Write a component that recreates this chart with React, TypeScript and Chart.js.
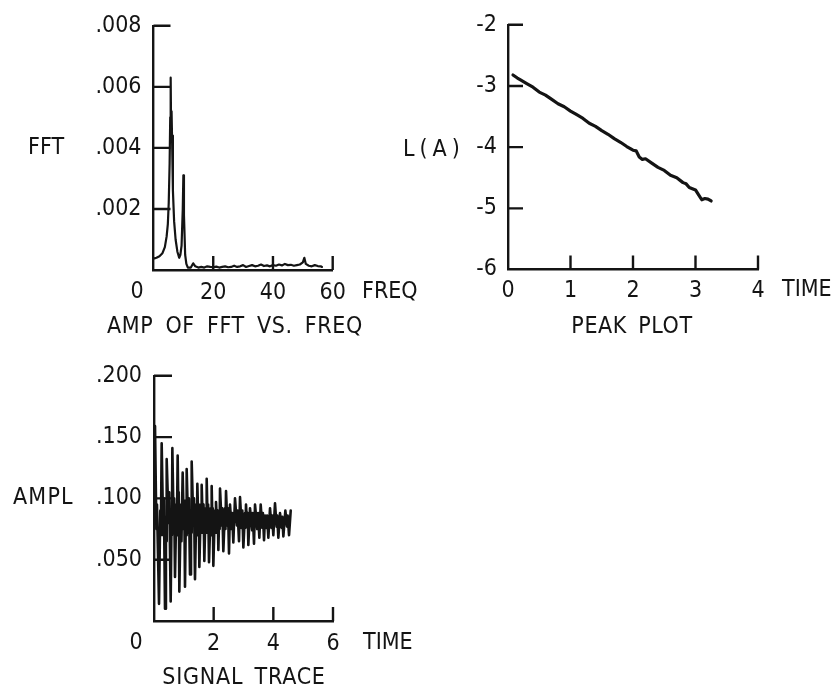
import React, { useEffect, useRef } from "react";
import { Chart, registerables } from "chart.js";
Chart.register(...registerables);

const FONT = "'Liberation Sans Narrow', 'DejaVu Sans Condensed', 'Arial Narrow', sans-serif";
const INK = "#141414";

// ---------- Panel 1: AMP OF FFT VS. FREQ ----------
const fftFreq = [0.3, 1.0, 2.0, 3.0, 3.8, 4.4, 4.8, 5.1, 5.4, 5.6, 5.75, 5.9, 6.05, 6.2, 6.5, 6.9, 7.4, 8.0, 8.6, 9.0, 9.4, 9.8, 10.0, 10.2, 10.6, 11.0, 11.5, 12.5, 13.3, 14.0, 15, 16, 17, 18, 19, 20, 21, 22, 23, 24, 25, 26, 27, 28, 29, 30, 31, 32, 33, 34, 35, 36, 37, 38, 39, 40, 41, 42, 43, 44, 45, 46, 47, 48, 49, 50, 50.5, 51, 52, 53, 54, 55, 56, 56.4];
const fftAmp = [0.00038, 0.0004, 0.00045, 0.00055, 0.00075, 0.0011, 0.0015, 0.0022, 0.0035, 0.005, 0.0063, 0.0046, 0.0052, 0.0044, 0.0026, 0.0016, 0.001, 0.0006, 0.0004, 0.0005, 0.0008, 0.002, 0.0031, 0.0018, 0.0005, 0.0002, 0.00008, 0.00008, 0.00022, 0.00012, 0.00008, 0.0001, 0.00008, 0.00012, 0.0001, 0.00009, 0.00011, 0.00008, 0.0001, 0.00012, 0.00009, 0.0001, 0.00014, 0.0001, 0.00012, 0.00016, 0.0001, 0.00013, 0.00016, 0.00012, 0.00014, 0.00018, 0.00013, 0.00015, 0.00012, 0.00016, 0.00014, 0.00018, 0.00015, 0.0002, 0.00016, 0.00017, 0.00014, 0.00016, 0.00018, 0.00025, 0.0004, 0.0002, 0.00014, 0.00012, 0.00016, 0.00013, 0.00012, 0.0001];
const fftXTicks = [20, 40, 60];
const fftYTicks = [0.002, 0.004, 0.006, 0.008];

// ---------- Panel 2: PEAK PLOT ----------
const peakTime = [0.08, 0.15, 0.2, 0.3, 0.4, 0.5, 0.6, 0.7, 0.8, 0.9, 1.0, 1.1, 1.2, 1.3, 1.4, 1.5, 1.6, 1.7, 1.8, 1.9, 2.0, 2.05, 2.1, 2.15, 2.2, 2.3, 2.4, 2.5, 2.6, 2.7, 2.8, 2.85, 2.9, 3.0, 3.05, 3.1, 3.15, 3.2, 3.25];
const peakLogAmp = [-2.82, -2.87, -2.9, -2.96, -3.02, -3.1, -3.15, -3.22, -3.29, -3.34, -3.41, -3.47, -3.53, -3.61, -3.66, -3.73, -3.79, -3.86, -3.92, -3.99, -4.05, -4.06, -4.16, -4.2, -4.19, -4.26, -4.33, -4.38, -4.46, -4.5, -4.58, -4.6, -4.66, -4.7, -4.78, -4.86, -4.84, -4.85, -4.88];
const peakXTicks = [1, 2, 3, 4];
const peakYTicks = [-5, -4, -3, -2];

// ---------- Panel 3: SIGNAL TRACE ----------
const sigTime = [
  0.0, 0.034, 0.08, 0.1, 0.168, 0.21, 0.23, 0.257, 0.31, 0.33, 0.369, 0.4, 0.41, 0.425, 0.49, 0.51, 0.559, 0.59, 0.6, 0.615,
  0.66, 0.675, 0.704, 0.75, 0.765, 0.793, 0.82, 0.83, 0.849, 0.9, 0.92, 0.961, 1.0, 1.015, 1.039, 1.07, 1.08, 1.095, 1.15, 1.17,
  1.207, 1.24, 1.25, 1.263, 1.32, 1.34, 1.374, 1.42, 1.435, 1.453, 1.49, 1.5, 1.52, 1.57, 1.58, 1.598, 1.64, 1.66, 1.687, 1.73,
  1.745, 1.766, 1.8, 1.815, 1.844, 1.9, 1.915, 1.933, 1.96, 1.97, 1.989, 2.04, 2.055, 2.078, 2.12, 2.135, 2.157, 2.19, 2.2, 2.213,
  2.27, 2.29, 2.324, 2.38, 2.395, 2.414, 2.46, 2.48, 2.514, 2.548, 2.6, 2.62, 2.659, 2.715, 2.78, 2.8, 2.849, 2.883, 2.94, 2.96,
  2.995, 3.05, 3.065, 3.084, 3.12, 3.14, 3.162, 3.218, 3.29, 3.31, 3.352, 3.386, 3.46, 3.49, 3.531, 3.576, 3.63, 3.65, 3.688, 3.721,
  3.77, 3.79, 3.833, 3.889, 3.94, 3.96, 4.0, 4.056, 4.11, 4.13, 4.168, 4.224, 4.28, 4.3, 4.336, 4.403, 4.46, 4.48, 4.526, 4.582,
];
const sigAmpl = [
  0.12, 0.159, 0.075, 0.095, 0.014, 0.09, 0.07, 0.145, 0.07, 0.1, 0.01, 0.085, 0.065, 0.132, 0.08, 0.105, 0.016, 0.09, 0.07, 0.141,
  0.075, 0.1, 0.036, 0.095, 0.07, 0.135, 0.085, 0.105, 0.024, 0.095, 0.065, 0.121, 0.075, 0.098, 0.028, 0.09, 0.07, 0.124, 0.072, 0.1,
  0.038, 0.09, 0.072, 0.13, 0.078, 0.1, 0.034, 0.095, 0.07, 0.112, 0.075, 0.095, 0.044, 0.095, 0.072, 0.111, 0.075, 0.095, 0.049, 0.092,
  0.072, 0.116, 0.078, 0.095, 0.048, 0.092, 0.07, 0.11, 0.078, 0.092, 0.045, 0.09, 0.072, 0.097, 0.075, 0.09, 0.058, 0.09, 0.075, 0.108,
  0.078, 0.092, 0.057, 0.092, 0.075, 0.106, 0.078, 0.092, 0.055, 0.095, 0.075, 0.088, 0.064, 0.1, 0.078, 0.09, 0.065, 0.101, 0.076, 0.09,
  0.06, 0.088, 0.076, 0.095, 0.078, 0.088, 0.062, 0.092, 0.074, 0.088, 0.063, 0.095, 0.075, 0.088, 0.068, 0.095, 0.076, 0.088, 0.066, 0.086,
  0.076, 0.086, 0.068, 0.092, 0.076, 0.086, 0.07, 0.096, 0.077, 0.086, 0.068, 0.088, 0.076, 0.085, 0.069, 0.09, 0.077, 0.086, 0.07, 0.09,
];
const sigXTicks = [2, 4, 6];
const sigYTicks = [0.05, 0.1, 0.15, 0.2];

type TextItem = { text: string; x: number; y: number; align?: CanvasTextAlign; ls?: number; ws?: number };

type PanelSpec = {
  left: number; top: number; width: number; height: number;
  areaLeft: number; areaRight: number; areaTop: number; areaBottom: number;
  xs: number[]; ys: number[]; lw: number;
  xMin: number; xMax: number; xStep: number; xPad: number; xFmt: (v: number) => string;
  yMin: number; yMax: number; yStep: number; yPad: number; yFmt: (v: number) => string;
  xTicks: number[]; yTicks: number[]; xLen: number; yLen: number;
  texts: TextItem[];
};

const AXIS_W = 2.4;

const dotFmt = (v: number) => (Math.abs(v) < 1e-9 ? "" : "." + String(Math.round(v * 1000)).padStart(3, "0"));

function makeDecor(p: PanelSpec) {
  return {
    id: "decor",
    afterDraw(chart: any) {
      const { ctx, chartArea } = chart;
      const xs = chart.scales.x;
      const ys = chart.scales.y;
      ctx.save();
      ctx.strokeStyle = INK;
      ctx.lineWidth = AXIS_W;
      ctx.beginPath();
      for (const v of p.xTicks) {
        const px = xs.getPixelForValue(v);
        ctx.moveTo(px, chartArea.bottom);
        ctx.lineTo(px, chartArea.bottom - p.xLen);
      }
      for (const v of p.yTicks) {
        const py = ys.getPixelForValue(v);
        ctx.moveTo(chartArea.left, py);
        ctx.lineTo(chartArea.left + p.yLen, py);
      }
      ctx.stroke();
      ctx.fillStyle = INK;
      ctx.textBaseline = "middle";
      for (const t of p.texts) {
        ctx.font = `23px ${FONT}`;
        (ctx as any).letterSpacing = `${t.ls || 0}px`;
        (ctx as any).wordSpacing = `${t.ws || 0}px`;
        ctx.textAlign = t.align || "left";
        ctx.fillText(t.text, t.x, t.y);
      }
      ctx.restore();
    },
  };
}

function makeConfig(p: PanelSpec): any {
  const font = { family: FONT, size: 23 };
  return {
    type: "line",
    data: {
      datasets: [
        {
          data: p.xs.map((x, i) => ({ x, y: p.ys[i] })),
          borderColor: INK,
          borderWidth: p.lw,
          pointRadius: 0,
          tension: 0,
          fill: false,
          borderJoinStyle: "round",
          borderCapStyle: "round",
        },
      ],
    },
    options: {
      animation: false,
      responsive: false,
      events: [],
      layout: { padding: { left: 0, top: p.areaTop, right: p.width - p.areaRight, bottom: 0 } },
      plugins: { legend: { display: false }, tooltip: { enabled: false } },
      scales: {
        x: {
          type: "linear",
          min: p.xMin,
          max: p.xMax,
          afterFit: (s: any) => { s.height = p.height - p.areaBottom; },
          grid: { display: false, drawTicks: false },
          border: { display: true, color: INK, width: AXIS_W },
          ticks: { stepSize: p.xStep, padding: p.xPad, font, color: INK, maxRotation: 0, autoSkip: false, callback: (v: any) => p.xFmt(Number(v)) },
        },
        y: {
          type: "linear",
          min: p.yMin,
          max: p.yMax,
          afterFit: (s: any) => { s.width = p.areaLeft; },
          grid: { display: false, drawTicks: false },
          border: { display: true, color: INK, width: AXIS_W },
          ticks: { stepSize: p.yStep, padding: p.yPad, font, color: INK, autoSkip: false, callback: (v: any) => p.yFmt(Number(v)) },
        },
      },
    },
    plugins: [makeDecor(p)],
  };
}

const panels: PanelSpec[] = [
  {
    left: 0, top: 0, width: 440, height: 350,
    areaLeft: 153.5, areaRight: 332.7, areaTop: 20, areaBottom: 270,
    xs: fftFreq, ys: fftAmp, lw: 2.2,
    xMin: 0, xMax: 60, xStep: 20, xPad: 9, xFmt: (v) => (v === 0 ? "" : String(v)),
    yMin: 0, yMax: 0.008, yStep: 0.002, yPad: 12, yFmt: dotFmt,
    xTicks: fftXTicks, yTicks: fftYTicks, xLen: 14, yLen: 17,
    texts: [
      { text: "FFT", x: 28, y: 148 },
      { text: "0", x: 137, y: 292, align: "center" },
      { text: "FREQ", x: 362, y: 292 },
      { text: "AMP OF FFT VS. FREQ", x: 107, y: 327, ls: 0.6, ws: 5 },
    ],
  },
  {
    left: 390, top: 0, width: 449, height: 350,
    areaLeft: 118, areaRight: 368, areaTop: 20, areaBottom: 269.5,
    xs: peakTime, ys: peakLogAmp, lw: 3.2,
    xMin: 0, xMax: 4, xStep: 1, xPad: 8, xFmt: (v) => String(v),
    yMin: -6, yMax: -2, yStep: 1, yPad: 11, yFmt: (v) => String(v),
    xTicks: peakXTicks, yTicks: peakYTicks, xLen: 14, yLen: 15,
    texts: [
      { text: "L(A)", x: 13, y: 150, ls: 5 },
      { text: "TIME", x: 392, y: 290 },
      { text: "PEAK PLOT", x: 242, y: 327, align: "center", ls: 0.6, ws: 4 },
    ],
  },
  {
    left: 0, top: 350, width: 440, height: 344,
    areaLeft: 154, areaRight: 333, areaTop: 23, areaBottom: 271,
    xs: sigTime, ys: sigAmpl, lw: 2.6,
    xMin: 0, xMax: 6, xStep: 2, xPad: 9, xFmt: (v) => (v === 0 ? "" : String(v)),
    yMin: 0, yMax: 0.2, yStep: 0.05, yPad: 12, yFmt: dotFmt,
    xTicks: sigXTicks, yTicks: sigYTicks, xLen: 14, yLen: 18,
    texts: [
      { text: "AMPL", x: 13, y: 148, ls: 1.2 },
      { text: "0", x: 136, y: 293, align: "center" },
      { text: "TIME", x: 363, y: 293 },
      { text: "SIGNAL TRACE", x: 244, y: 328, align: "center", ls: 0.75, ws: 4 },
    ],
  },
];

function Panel({ spec }: { spec: PanelSpec }) {
  const ref = useRef<HTMLCanvasElement>(null);
  useEffect(() => {
    const chart = new Chart(ref.current as HTMLCanvasElement, makeConfig(spec));
    return () => chart.destroy();
  }, [spec]);
  return (
    <canvas
      ref={ref}
      width={spec.width}
      height={spec.height}
      style={{ position: "absolute", left: spec.left, top: spec.top, width: spec.width, height: spec.height }}
    />
  );
}

export default function App() {
  return (
    <div style={{ position: "absolute", left: 0, top: 0, width: 839, height: 694, background: "#fff", overflow: "hidden" }}>
      {panels.map((p, i) => (
        <Panel key={i} spec={p} />
      ))}
    </div>
  );
}
